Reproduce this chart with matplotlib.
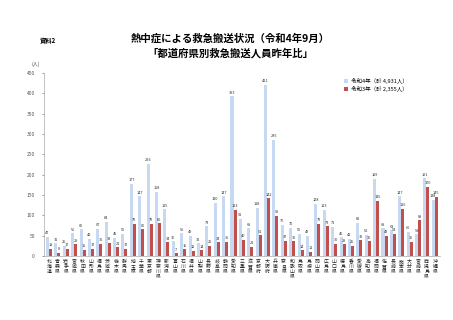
import numpy as np
import matplotlib.pyplot as plt
import matplotlib.transforms as mtransforms

plt.rcParams['font.family'] = ['Noto Sans CJK JP', 'DejaVu Sans']

prefs = ['北海道', '青森県', '岩手県', '宮城県', '秋田県', '山形県', '福島県', '茨城県', '栃木県', '群馬県',
         '埼玉県', '千葉県', '東京都', '神奈川県', '新潟県', '富山県', '石川県', '福井県', '山梨県', '長野県',
         '岐阜県', '静岡県', '愛知県', '三重県', '滋賀県', '京都府', '大阪府', '兵庫県', '奈良県', '和歌山県',
         '鳥取県', '島根県', '岡山県', '広島県', '山口県', '徳島県', '香川県', '愛媛県', '高知県', '福岡県',
         '佐賀県', '長崎県', '熊本県', '大分県', '宮崎県', '鹿児島県', '沖縄県']
r4 = [47, 31, 25, 56, 66, 42, 67, 84, 45, 55,
      177, 147, 226, 158, 115, 36, 56, 49, 31, 73,
      130, 147, 393, 91, 68, 118, 421, 285, 76, 70,
      55, 49, 128, 113, 71, 46, 42, 81, 52, 189,
      68, 63, 147, 60, 53, 191, 138]
r3 = [18, 8, 17, 29, 15, 17, 30, 33, 21, 17,
      79, 66, 79, 80, 34, 7, 16, 12, 14, 25,
      34, 35, 113, 40, 22, 51, 142, 99, 37, 36,
      14, 11, 79, 73, 30, 29, 25, 39, 36, 135,
      49, 54, 116, 35, 88, 170, 145]

blue = '#c6d9f1'
red = '#c0504d'

fig = plt.figure(figsize=(4.53, 3.2), dpi=100)
ax = fig.add_axes([0.097, 0.2, 0.874, 0.572])

x = np.arange(len(prefs))
w = 0.36
ax.bar(x - w / 2, r4, w, color=blue, label='令和4年（計 4,931人）')
ax.bar(x + w / 2, r3, w, color=red, label='令和3年（計 2,355人）')

# value labels above each bar
for i in range(len(prefs)):
    ax.text(x[i] - w / 2, r4[i] + 4, str(r4[i]), ha='center', va='bottom', fontsize=2.8, color='#333333')
    ax.text(x[i] + w / 2, r3[i] + 4, str(r3[i]), ha='center', va='bottom', fontsize=2.8, color='#333333')

ax.set_xlim(-0.6, len(prefs) - 0.4)
ax.set_ylim(0, 450)
ax.set_yticks(range(0, 451, 50))
ax.tick_params(axis='y', labelsize=3.5, length=1.5, width=0.4, colors='#555555', pad=5)
ax.set_xticks([])
for s in ['top', 'right']:
    ax.spines[s].set_visible(False)
for s in ['left', 'bottom']:
    ax.spines[s].set_color('#aaaaaa')
    ax.spines[s].set_linewidth(0.5)

# vertical (stacked) prefecture names
trans = mtransforms.blended_transform_factory(ax.transData, ax.transAxes)
for i, p in enumerate(prefs):
    ax.text(x[i], -0.015, '\n'.join(p), transform=trans, ha='center', va='top',
            fontsize=3.5, linespacing=1.05, color='#222222')

ax.legend(loc='upper left', bbox_to_anchor=(0.745, 1.0), frameon=False, fontsize=4,
          handlelength=0.8, handleheight=0.8, handletextpad=0.5, labelspacing=0.3)

fig.text(0.07, 0.8, '(人)', fontsize=3.5, color='#444444', va='center')
fig.text(0.088, 0.873, '資料2', fontsize=4.5, fontweight='bold', va='center')
fig.text(0.508, 0.88, '熱中症による救急搬送状況（令和4年9月）', fontsize=7.5, fontweight='bold', ha='center', va='center')
fig.text(0.508, 0.835, '「都道府県別救急搬送人員昨年比」', fontsize=7.5, fontweight='bold', ha='center', va='center')

fig.savefig('out.png', dpi=100)
